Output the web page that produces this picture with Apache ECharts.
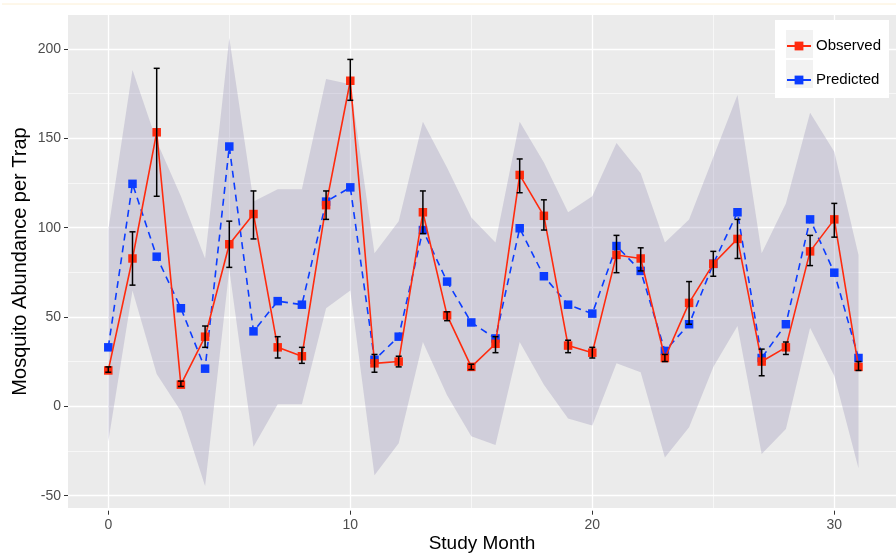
<!DOCTYPE html>
<html>
<head>
<meta charset="utf-8">
<script src="https://cdn.jsdelivr.net/npm/echarts@6/dist/echarts.min.js"></script>
<style>
  html, body { margin: 0; padding: 0; background: #fff; }
  #main { width: 896px; height: 558px; }
</style>
</head>
<body>
<div id="main"></div>
<script>
// study months 0..31
const months = [0, 1, 2, 3, 4, 5, 6, 7, 8, 9, 10, 11, 12, 13, 14, 15,
                16, 17, 18, 19, 20, 21, 22, 23, 24, 25, 26, 27, 28, 29, 30, 31];

const observed = [19, 82, 153, 11, 38, 90, 107, 32, 27, 112, 182, 23, 24, 108, 50, 21,
                  34, 129, 106, 33, 29, 84, 82, 26, 57, 79, 93, 24, 32, 86, 104, 21];
const obsLow   = [18, 67, 117, 10, 32, 77, 93, 26, 23, 104, 171, 18, 21, 96, 47, 19.5,
                  29, 119, 98, 29, 26, 74, 75, 24, 45, 72, 82, 16, 28, 78, 94, 19];
const obsHigh  = [21, 97, 189, 13, 44, 103, 120, 38, 32, 120, 194, 28, 27, 120, 52, 22.5,
                  38, 138, 115, 36, 32, 95, 88, 28, 69, 86, 104, 31, 35, 95, 113, 24];

const predicted = [32, 124, 83, 54, 20, 145, 41, 58, 56, 114, 122, 25, 38, 98, 69, 46,
                   37, 99, 72, 56, 51, 89, 75, 30, 45, 79, 108, 26, 45, 104, 74, 26];

// prediction interval band
const bandLower = [-21, 64, 17, -4, -46, 76, -24, 0, 0, 54, 64, -40, -22, 35, 5, -18,
                   -23, 35, 11, -8, -12, 23, 18, -30, -13, 21, 44, -28, -14, 43, 16, -36];
const bandUpper = [98, 188, 148, 117, 82, 206, 114, 121, 121, 183, 180, 85, 103, 159, 133, 105,
                   91, 159, 136, 108, 117, 147, 130, 91, 104, 139, 174, 85, 113, 164, 142, 84];

const yTicks = [-50, 0, 50, 100, 150, 200];
const xTicks = [0, 10, 20, 30];

const FONT = 'Liberation Sans, Arial, Helvetica, sans-serif';
const RED = '#ff2a0d';
const BLUE = '#0b3cff';

const pair = (arr) => months.map((m, i) => [m, arr[i]]);

let chart = echarts.init(document.getElementById('main'), null, { renderer: 'canvas' });

const option = {
    animation: false,
    backgroundColor: '#ffffff',
    textStyle: { fontFamily: FONT },
    grid: [
        // data panel
        { left: 68, right: 0, top: 15, bottom: 47.3, show: true, backgroundColor: '#ebebeb', borderWidth: 0 },
        // horizontal grid lines + y labels
        { left: 68, right: 0, top: 49, bottom: 62.3 },
        // vertical grid lines + x labels
        { left: 108.3, right: 61.7, top: 15, bottom: 47.3 }
    ],
    xAxis: [
        {
            gridIndex: 0, type: 'value', min: -1.665, max: 32.55,
            axisLine: { show: false }, axisTick: { show: false }, axisLabel: { show: false },
            splitLine: { show: false },
            name: 'Study Month', nameLocation: 'middle', nameGap: 26,
            nameTextStyle: { fontSize: 19, color: '#000', fontFamily: FONT }
        },
        { gridIndex: 1, type: 'value', show: false, min: 0, max: 1 },
        {
            gridIndex: 2, type: 'value', min: xTicks[0], max: xTicks[xTicks.length - 1], interval: 10, z: 1,
            axisLine: { show: false },
            axisTick: { show: true, length: 4, lineStyle: { color: '#333', width: 1 } },
            axisLabel: { color: '#4d4d4d', fontSize: 14, margin: 7, fontFamily: FONT },
            splitLine: { show: true, lineStyle: { color: '#ffffff', width: 1.3 } },
            minorTick: { show: false, splitNumber: 2 },
            minorSplitLine: { show: true, lineStyle: { color: '#ffffff', width: 0.6 } }
        }
    ],
    yAxis: [
        {
            gridIndex: 0, type: 'value', min: -58.4, max: 219.0,
            axisLine: { show: false }, axisTick: { show: false }, axisLabel: { show: false },
            splitLine: { show: false },
            name: 'Mosquito Abundance per Trap', nameLocation: 'middle', nameGap: 38,
            nameTextStyle: { fontSize: 20, color: '#000', fontFamily: FONT }
        },
        {
            gridIndex: 1, type: 'value', min: yTicks[0], max: yTicks[yTicks.length - 1], interval: 50, z: 1,
            axisLine: { show: false },
            axisTick: { show: true, length: 4, lineStyle: { color: '#333', width: 1 } },
            axisLabel: { color: '#4d4d4d', fontSize: 14, margin: 7, fontFamily: FONT },
            splitLine: { show: true, lineStyle: { color: '#ffffff', width: 1.3 } },
            minorTick: { show: false, splitNumber: 2 },
            minorSplitLine: { show: true, lineStyle: { color: '#ffffff', width: 0.6 } }
        },
        { gridIndex: 2, type: 'value', show: false, min: 0, max: 1 }
    ],
    legend: {
        left: 786, top: 38.5, orient: 'vertical', padding: 0,
        itemWidth: 24, itemHeight: 11, itemGap: 19,
        textStyle: { fontSize: 15, color: '#000', fontFamily: FONT },
        data: [
            { name: 'Observed', lineStyle: { type: 'solid' } },
            { name: 'Predicted', lineStyle: { type: 'solid' } }
        ]
    },
    graphic: [
        { type: 'line', z: 0, shape: { x1: 2, y1: 4, x2: 896, y2: 4 }, style: { stroke: '#fcefd4', lineWidth: 1 } },
        { type: 'rect', z: 3, shape: { x: 775, y: 20, width: 114, height: 78 }, style: { fill: '#ffffff' } },
        { type: 'rect', z: 3, z2: 1, shape: { x: 786, y: 30, width: 27, height: 28 }, style: { fill: '#f2f2f2' } },
        { type: 'rect', z: 3, z2: 1, shape: { x: 786, y: 60, width: 27, height: 28 }, style: { fill: '#f2f2f2' } }
    ],
    series: [
        {
            // ribbon: one polygon through all lower points then back along upper points
            name: 'band', type: 'custom', xAxisIndex: 0, yAxisIndex: 0, z: 1, silent: true,
            encode: { x: 0, y: [1, 2] },
            renderItem: function (params, api) {
                if (params.dataIndexInside !== 0) return null;
                const n = params.dataInsideLength;
                const pts = [];
                for (let i = 0; i < n; i++) {
                    pts.push(api.coord([api.value(0, i), api.value(1, i)]));
                }
                for (let i = n - 1; i >= 0; i--) {
                    pts.push(api.coord([api.value(0, i), api.value(2, i)]));
                }
                return {
                    type: 'polygon',
                    shape: { points: pts },
                    style: { fill: 'rgba(127,119,167,0.25)' }
                };
            },
            data: months.map((m, i) => [m, bandLower[i], bandUpper[i]])
        },
        {
            name: 'Predicted', type: 'line', xAxisIndex: 0, yAxisIndex: 0,
            symbol: 'rect', symbolSize: 8.5, z: 3,
            lineStyle: { color: BLUE, width: 1.6, type: [7, 5] },
            itemStyle: { color: BLUE },
            data: pair(predicted)
        },
        {
            name: 'Observed', type: 'line', xAxisIndex: 0, yAxisIndex: 0,
            symbol: 'rect', symbolSize: 8.5, z: 4,
            lineStyle: { color: RED, width: 1.6 },
            itemStyle: { color: RED },
            data: pair(observed)
        },
        {
            name: 'errorBars', type: 'custom', xAxisIndex: 0, yAxisIndex: 0, z: 5,
            encode: { x: 0, y: [1, 2] },
            renderItem: function (params, api) {
                const m = api.value(0);
                const lo = api.coord([m, api.value(1)]);
                const hi = api.coord([m, api.value(2)]);
                const w = 3;
                const st = { stroke: '#000', lineWidth: 1.5 };
                return {
                    type: 'group',
                    children: [
                        { type: 'line', shape: { x1: lo[0], y1: lo[1], x2: hi[0], y2: hi[1] }, style: st },
                        { type: 'line', shape: { x1: lo[0] - w, y1: lo[1], x2: lo[0] + w, y2: lo[1] }, style: st },
                        { type: 'line', shape: { x1: hi[0] - w, y1: hi[1], x2: hi[0] + w, y2: hi[1] }, style: st }
                    ]
                };
            },
            data: months.map((m, i) => [m, obsLow[i], obsHigh[i]])
        }
    ]
};

chart.setOption(option);
</script>
</body>
</html>
